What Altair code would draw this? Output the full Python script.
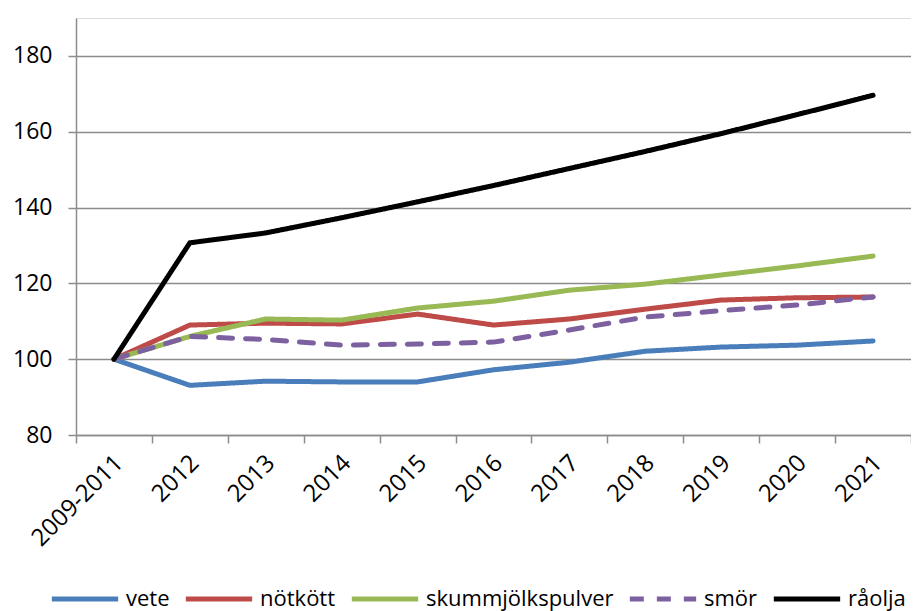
import altair as alt
import pandas as pd

years = ["2009-2011", "2012", "2013", "2014", "2015", "2016", "2017", "2018", "2019", "2020", "2021"]
series_names = ["vete", "nötkött", "skummjölkspulver", "smör", "råolja"]
vete = [100, 93.1, 94.2, 94.0, 94.0, 97.2, 99.2, 102.1, 103.2, 103.7, 104.8]
notkott = [100, 109.0, 109.5, 109.3, 111.9, 109.0, 110.6, 113.2, 115.6, 116.2, 116.4]
skumm = [100, 106.0, 110.6, 110.3, 113.5, 115.3, 118.2, 119.8, 122.2, 124.6, 127.2]
smor = [100, 106.0, 105.2, 103.7, 104.0, 104.5, 107.7, 111.1, 112.8, 114.3, 116.4]
raolja = [100, 130.7, 133.3, 137.3, 141.5, 145.8, 150.3, 154.8, 159.5, 164.5, 169.6]
colors = ["#4A7EBB", "#BE4B48", "#98B954", "#7D60A0", "#000000"]
dashes = [[1, 0], [1, 0], [1, 0], [14, 13], [1, 0]]

rows = []
for name, vals in zip(series_names, [vete, notkott, skumm, smor, raolja]):
    for i, (y, v) in enumerate(zip(years, vals)):
        rows.append({"year": y, "value": v, "serie": name, "order": i})
df = pd.DataFrame(rows)

FONT = "Open Sans"
GRAY = "#8c8c8c"

chart = alt.Chart(df).mark_line(strokeWidth=5, strokeCap="round", strokeJoin="round").encode(
    x=alt.X("year:N", sort=years, title=None,
            scale=alt.Scale(paddingInner=0, paddingOuter=0),
            axis=alt.Axis(labelAngle=-45, labelAlign="right", labelBaseline="middle",
                          labelPadding=16, tickBand="extent", tickSize=8, tickColor=GRAY,
                          domainColor=GRAY, domainWidth=1.5, tickWidth=1.5,
                          labelFont=FONT, labelFontSize=24, labelColor="#000000",
                          grid=False, labelOverlap=False, labelOffset=5)),
    y=alt.Y("value:Q", title=None,
            scale=alt.Scale(domain=[80, 190], nice=False, zero=False),
            axis=alt.Axis(values=[80, 100, 120, 140, 160, 180], tickSize=8, tickColor=GRAY,
                          tickWidth=1.5, domainColor=GRAY, domainWidth=1.5,
                          gridColor=GRAY, gridWidth=1.5, labelPadding=16,
                          labelFont=FONT, labelFontSize=23, labelColor="#000000")),
    color=alt.Color("serie:N", sort=series_names,
                    scale=alt.Scale(domain=series_names, range=colors),
                    legend=alt.Legend(title=None, orient="none", direction="horizontal",
                                      legendX=-27, legendY=545, symbolType="stroke",
                                      symbolSize=4400, symbolStrokeWidth=5,
                                      labelFont=FONT, labelFontSize=22, labelColor="#000000",
                                      labelOffset=5, columnPadding=5, labelLimit=400)),
    strokeDash=alt.StrokeDash("serie:N", sort=series_names,
                              scale=alt.Scale(domain=series_names, range=dashes),
                              legend=None),
    order="order:Q",
).properties(
    width=835, height=417,
    autosize=alt.AutoSizeParams(type="none"),
    padding={"left": 68, "top": 10, "right": 0, "bottom": 176},
).configure_view(stroke=None).configure(font=FONT)

chart.save("out.html", embed_options={"renderer": "svg", "actions": False})
